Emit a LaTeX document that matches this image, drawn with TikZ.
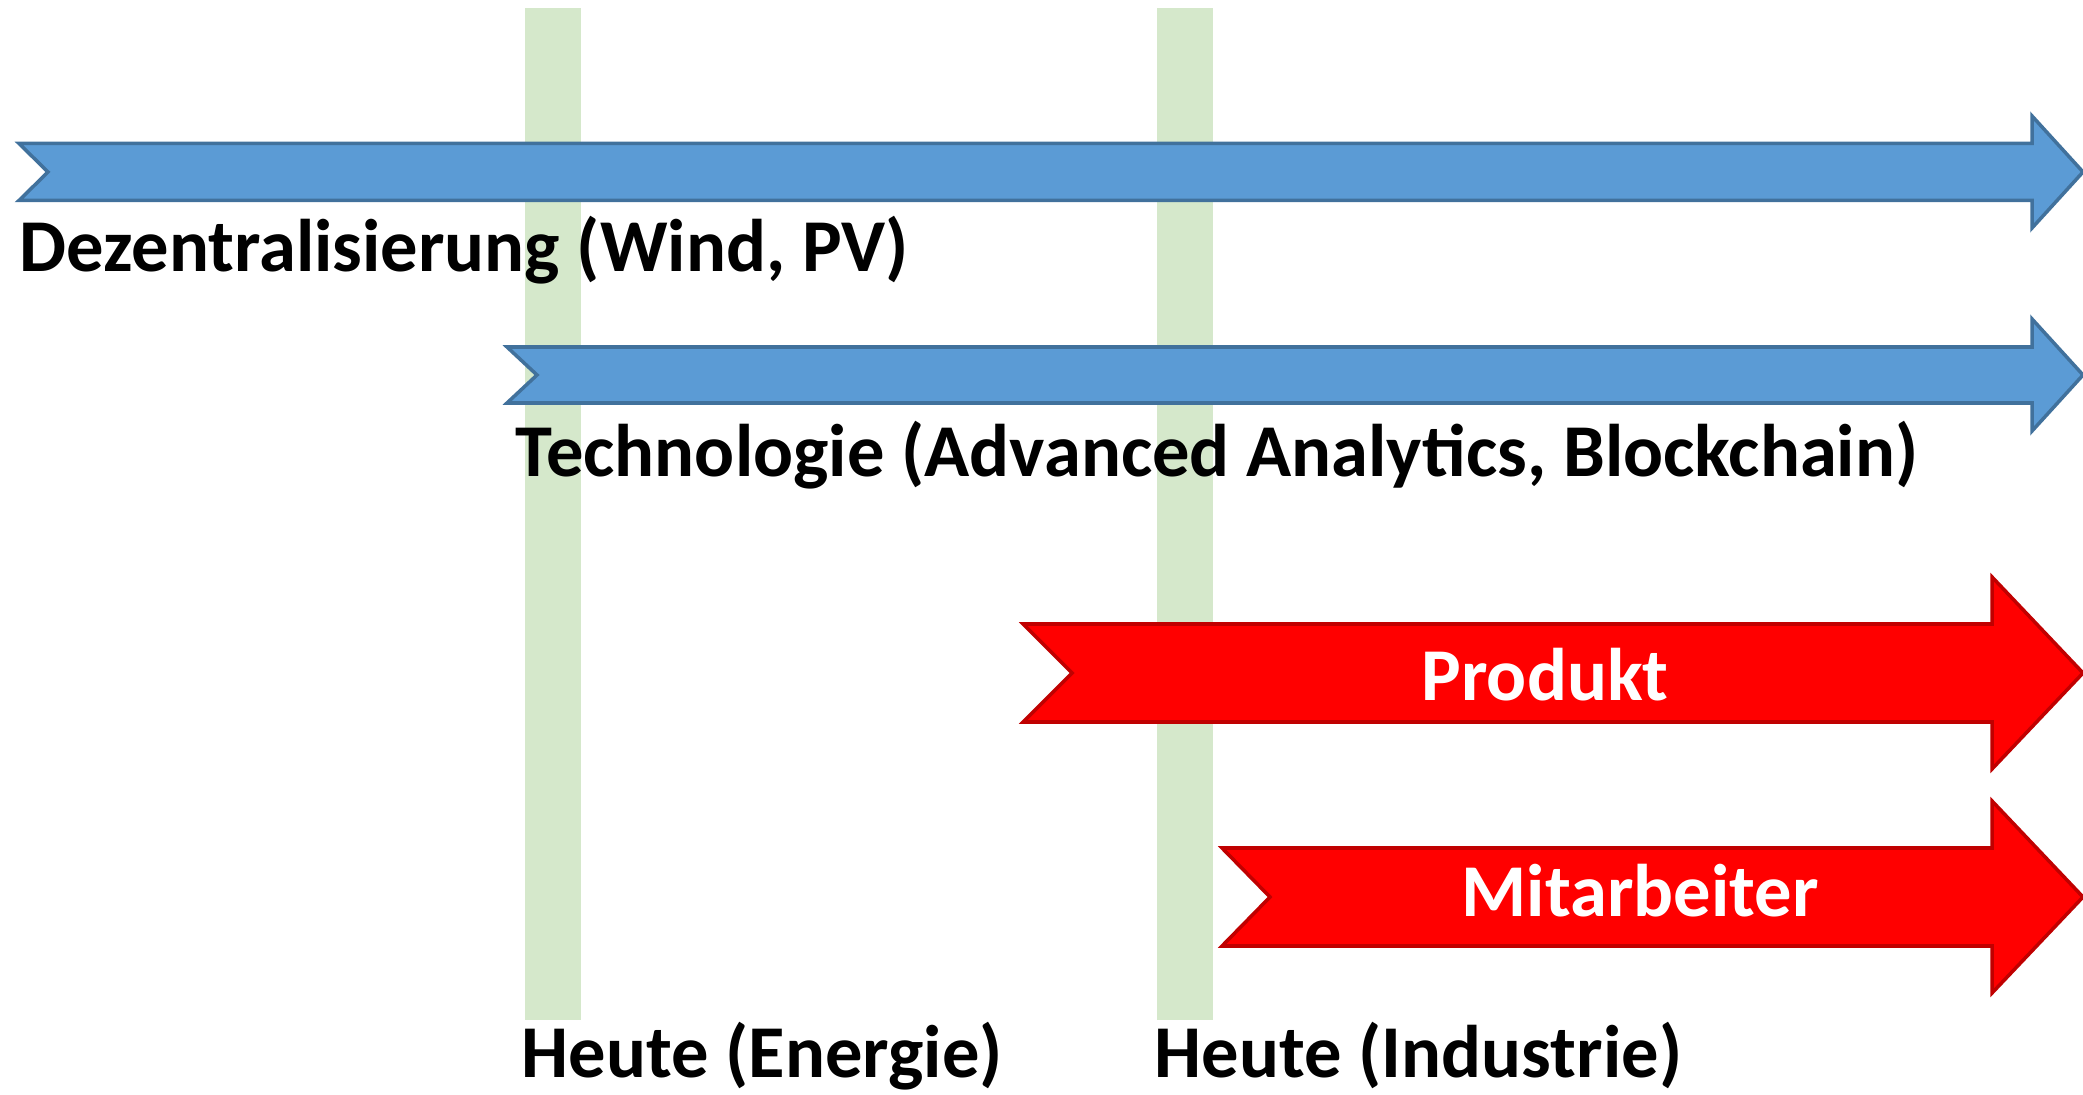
\documentclass[tikz,border=0pt]{standalone}
\usepackage{fontspec}
\setmainfont{Carlito}
\usetikzlibrary{positioning}
\definecolor{heutegreen}{HTML}{D5E8CB}
\definecolor{trendblue}{HTML}{5B9BD5}
\definecolor{trendblueline}{HTML}{41719C}
\definecolor{focusred}{HTML}{FF0000}
\definecolor{focusredline}{HTML}{C00000}
\tikzset{
  heutebar/.style={fill=heutegreen},
  trendarrow/.style={fill=trendblue,draw=trendblueline,line width=1pt,line join=miter},
  focusarrow/.style={fill=focusred,draw=focusredline,line width=1pt,line join=miter},
  lbl/.style={font=\fontsize{21.2pt}{25pt}\selectfont\bfseries,inner sep=0pt,anchor=base west},
  lblw/.style={lbl,text=white,anchor=base}
}
\begin{document}
\begin{tikzpicture}[x=0.01cm,y=-0.01cm]
  \useasboundingbox (0,0) rectangle (2083,1095);
  % heute bars
  \foreach \X in {525,1157}
  \fill[heutebar] (\X,8) rectangle ++(56,1012);
  % trend arrows
  \foreach \T/\N/\C/\S/\H in {19/48/172/28.5/56,507/537/375/28/56}
  \draw[trendarrow] (\T,\C-\S) -- (2032,\C-\S) -- (2032,\C-\H) -- (2083,\C)
    -- (2032,\C+\H) -- (2032,\C+\S) -- (\T,\C+\S) -- (\N,\C) -- cycle;
  % focus arrows
  \foreach \T/\N/\C in {1023/1072/673,1222/1270/897}
  \draw[focusarrow] (\T,\C-49) -- (1992,\C-49) -- (1992,\C-96) -- (2083,\C)
    -- (1992,\C+96) -- (1992,\C+49) -- (\T,\C+49) -- (\N,\C) -- cycle;
  % labels
  \node[lbl] (dezentral) at (19,272) {Dezentralisierung (Wind, PV)};
  \node[lbl] (technologie) at (515,477) {Technologie (Advanced Analytics, Blockchain)};
  \node[lblw] (produkt) at (1545,700) {Produkt};
  \node[lblw] (mitarbeiter) at (1640,916) {Mitarbeiter};
  \node[lbl] (heuteenergie) at (521,1077) {Heute (Energie)};
  \node[lbl] (heuteindustrie) at (1154,1077) {Heute (Industrie)};
\end{tikzpicture}
\end{document}
